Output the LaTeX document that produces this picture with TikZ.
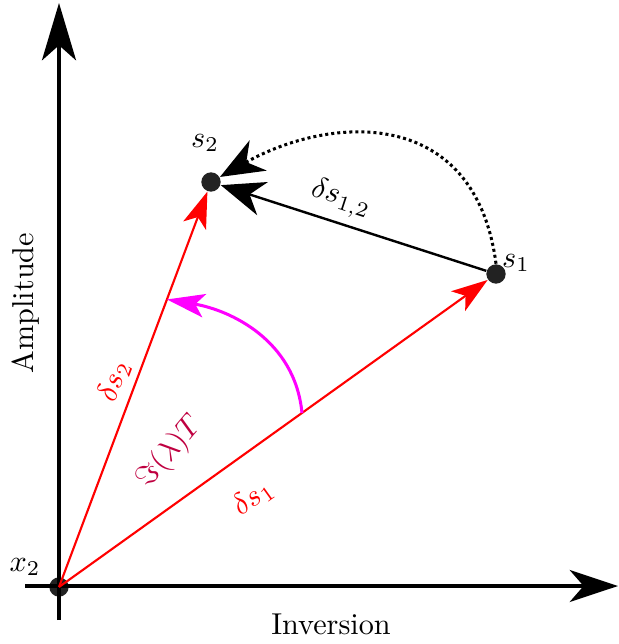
\documentclass[tikz,border=0pt]{standalone}
\usetikzlibrary{arrows.meta,calc}
\definecolor{dotfill}{HTML}{222222}
\definecolor{turncol}{RGB}{255,0,255}
\definecolor{imcol}{RGB}{191,0,64}

\begin{document}
\begin{tikzpicture}[
  x=0.331pt, y=-0.331pt,
  point/.style={circle, fill=dotfill, inner sep=0pt, minimum size=6.4pt},
  axis/.style={line width=1pt, -{Stealth[length=16pt,width=10.6pt,inset=4.6pt]}},
  vec/.style={red, line width=0.7pt, -{Stealth[length=12pt,width=8pt,inset=3pt]}},
  diff/.style={line width=0.8pt, -{Stealth[length=14.5pt,width=11.5pt,inset=4.5pt]}},
  path/.style={line width=1pt, dash pattern=on 1pt off 1pt,
    -{Stealth[length=14.5pt,width=11.5pt,inset=4.5pt]}},
  turn/.style={turncol, line width=1pt, -{Stealth[length=12.5pt,width=7.8pt,inset=3pt]}}
]
\useasboundingbox (0,0) rectangle (618,644);

\node[point] (O) at (59,587) {};
\node[point] (s1) at (496,274) {};
\node[point] (s2) at (211,182) {};

% axes
\coordinate (xs) at (25,586);
\coordinate (xe) at (618,586);
\coordinate (ys) at (59,620);
\coordinate (ye) at (59,3);
\draw[axis] (xs) -- (xe);
\draw[axis, -{Stealth[length=19pt,width=11.3pt,inset=5pt]}] (ys) -- (ye);

% vectors
\draw[vec] (O.center) -- (s1);
\draw[vec] (O.center) -- (s2);
\draw[diff] (s1) -- (s2);
\draw[path] (s1.north) .. controls (475,105) and (330,115) .. (s2);

\coordinate (a1) at ($(O)!0.556!(s1)$);
\coordinate (a2) at ($(O)!0.71!(s2)$);
\draw[turn] (a1) .. controls (295,340) and (230,310) .. (a2);

% labels
\node[text=red, rotate=35.6] (d1) at (253,498) {$\delta s_1$};
\node[text=red, rotate=69.4] (d2) at (114,381) {$\delta s_2$};
\node[text=imcol, rotate=50] (im) at (170,452) {$\Im(\lambda)T$};
\node[rotate=-18] (d12) at (341,199) {$\delta s_{1,2}$};
\node (l1) at (516,263) {$s_1$};
\node (l2) at (205,143) {$s_2$};
\node (lx) at (25,567) {$x_2$};
\node[rotate=90] (amp) at (26,303) {Amplitude};
\node (inv) at (331,624) {Inversion};

\end{tikzpicture}
\end{document}
